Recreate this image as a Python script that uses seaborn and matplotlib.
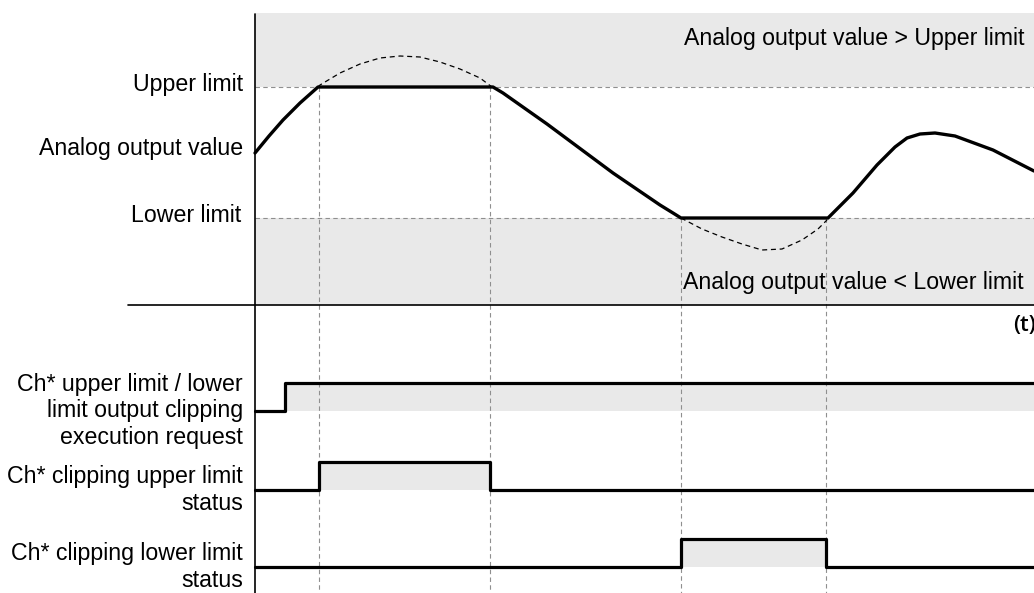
import numpy as np
import pandas as pd
import seaborn as sns
import matplotlib.pyplot as plt

# analog output value (time offset, level)
analog_t = [0, 14, 28, 45, 63, 235, 238, 248, 292, 358, 405, 418, 426, 571, 573, 598, 622, 640, 652, 665, 680, 700, 738, 779]
analog_v = [152, 169, 185, 202, 218, 218, 218, 212, 181, 132, 100, 92, 87, 87, 87, 112, 140, 158, 167, 171, 172, 169, 155, 134]

# unclipped value (dashed) above upper limit and below lower limit
over_t = [63, 65, 85, 105, 125, 145, 165, 185, 205, 225, 237]
over_v = [218, 220, 232, 241, 247, 249, 248, 243, 236, 227, 218]
under_t = [426, 447, 467, 487, 507, 527, 547, 563, 572]
under_v = [87, 76, 68, 61, 55, 56, 65, 76, 85]

upper_limit = 218
lower_limit = 87

# digital signals
req_t = [0, 30, 779]
req_state = [0, 1, 1]
up_t = [0, 64, 235, 779]
up_state = [0, 1, 0, 0]
lo_t = [0, 426, 571, 779]
lo_state = [0, 1, 0, 0]

sig_labels = ['Ch* upper limit / lower\nlimit output clipping\nexecution request',
              'Ch* clipping upper limit\nstatus',
              'Ch* clipping lower limit\nstatus']
sig_base = [-106, -185, -262]
amp = 28

t_end = 779
sns.set_theme(style='white')
plt.rcParams['font.family'] = ['Liberation Sans', 'DejaVu Sans']
plt.rcParams['text.color'] = 'black'

fig = plt.figure(figsize=(10.34, 5.93), dpi=100)
ax = fig.add_axes([0, 0, 1, 1])
ax.set_xlim(-255, t_end)
ax.set_ylim(-288, 305)
ax.axis('off')

gray = '#e9e9e9'
dash = '#8f8f8f'
fs = 16.7

# shaded zones
ax.fill_between([0, t_end], upper_limit, 292, color=gray, lw=0)
ax.fill_between([0, t_end], 0, lower_limit, color=gray, lw=0)

# limit lines and transition markers
ax.plot([0, t_end], [upper_limit] * 2, color=dash, lw=0.8, ls=(0, (4, 3)))
ax.plot([0, t_end], [lower_limit] * 2, color=dash, lw=0.8, ls=(0, (4, 3)))
for t in [64, 235]:
    ax.plot([t, t], [upper_limit, -288], color=dash, lw=0.8, ls=(0, (4, 3)))
for t in [426, 571]:
    ax.plot([t, t], [lower_limit, -288], color=dash, lw=0.8, ls=(0, (4, 3)))

# axes lines
ax.plot([0, 0], [291, -288], color='black', lw=1.2)
ax.plot([-127, t_end], [0, 0], color='black', lw=1.2)

# curves
sns.lineplot(x=over_t, y=over_v, sort=False, estimator=None, color='black', lw=0.9,
             linestyle=(0, (4, 3)), ax=ax)
sns.lineplot(x=under_t, y=under_v, sort=False, estimator=None, color='black', lw=0.9,
             linestyle=(0, (4, 3)), ax=ax)
sns.lineplot(x=analog_t, y=analog_v, sort=False, estimator=None, color='black', lw=2.4,
             solid_joinstyle='round', ax=ax)

# digital signals
for ts, st, base in zip([req_t, up_t, lo_t], [req_state, up_state, lo_state], sig_base):
    y = [base + amp * s for s in st]
    ax.fill_between(ts, base, y, step='post', color=gray, lw=0)
    ax.step(ts, y, where='post', color='black', lw=2.3)

# labels
ax.text(-12, 221, 'Upper limit', ha='right', va='center', fontsize=fs)
ax.text(-12, 157, 'Analog output value', ha='right', va='center', fontsize=fs)
ax.text(-14, 89, 'Lower limit', ha='right', va='center', fontsize=fs)
for lab, base in zip(sig_labels, sig_base):
    ax.text(-12, base, lab, ha='right', va='center', fontsize=fs, linespacing=1.2)

ax.text(770, 267, 'Analog output value > Upper limit', ha='right', va='center', fontsize=fs)
ax.text(428, 22, 'Analog output value < Lower limit', ha='left', va='center', fontsize=fs)
ax.text(758, -20, '(t)', ha='left', va='center', fontsize=16, fontweight='semibold',
        family=['Open Sans', 'DejaVu Sans'])

fig.savefig('out.png', dpi=100)
